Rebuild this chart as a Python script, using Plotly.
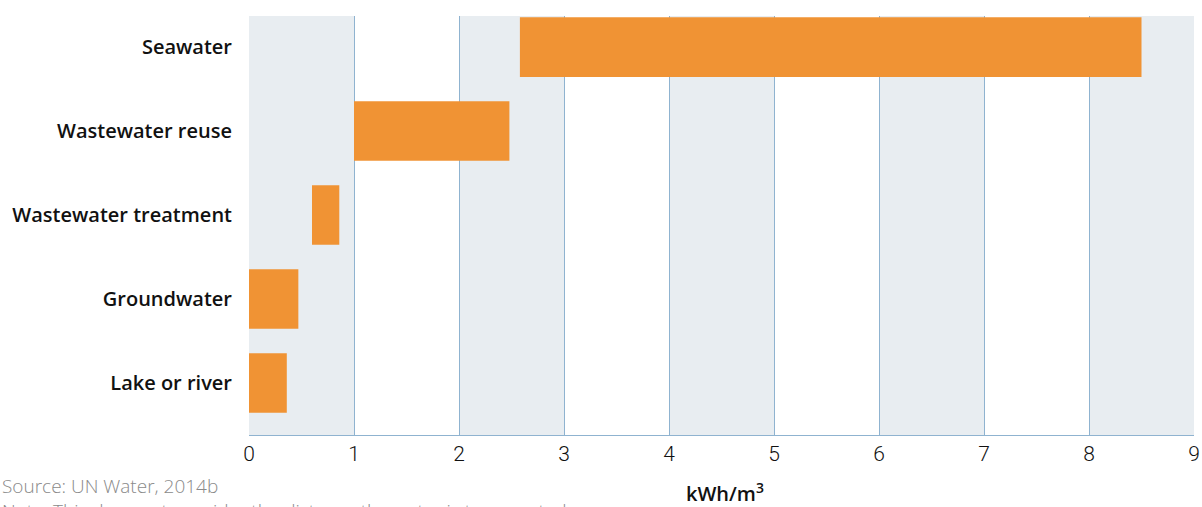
import plotly.graph_objects as go

categories = ["Lake or river", "Groundwater", "Wastewater treatment", "Wastewater reuse", "Seawater"]
low_values = [0.0, 0.0, 0.6, 1.0, 2.58]
high_values = [0.36, 0.47, 0.86, 2.48, 8.5]
tick_values = list(range(0, 10))
tick_labels = [str(v) for v in tick_values]

W, H = 1202, 507
ML, MR, MT, MB = 249, 8, 16, 72
PW, PH = W - ML - MR, H - MT - MB

fig = go.Figure()
fig.add_trace(go.Bar(
    y=categories,
    x=[h - l for l, h in zip(low_values, high_values)],
    base=low_values,
    orientation="h",
    marker=dict(color="#f09334", line=dict(width=0)),
    width=0.71,
    hoverinfo="skip",
))

shapes = []
for k in range(0, 9, 2):
    shapes.append(dict(type="rect", xref="x", yref="paper", x0=k, x1=k + 1, y0=0, y1=1,
                       fillcolor="#e8edf1", line=dict(width=0), layer="below"))
fig.update_layout(shapes=shapes)

def px_x(p):
    return (p - ML) / PW

def px_y(p):
    return (MT + PH - p) / PH

fig.update_layout(
    template="none",
    width=W, height=H,
    margin=dict(l=ML, r=MR, t=MT, b=MB, pad=0),
    plot_bgcolor="white", paper_bgcolor="white",
    showlegend=False,
    font=dict(family="Open Sans, sans-serif", color="#111111"),
    xaxis=dict(
        automargin=False,
        range=[0, 9], tickvals=tick_values, ticktext=tick_labels,
        showgrid=True, gridcolor="#8fb3d0", gridwidth=1,
        zeroline=False, showline=True, linecolor="#8fb3d0", linewidth=1,
        ticks="", tickfont=dict(size=21, family="Roboto, sans-serif", color="#111111", weight=300),
        ticklabelstandoff=0,
    ),
    yaxis=dict(
        automargin=False,
        range=[-0.62, 4.37], showgrid=False, zeroline=False, showline=False,
        ticks="", ticklabelstandoff=16,
        tickfont=dict(size=20, family="Open Sans, sans-serif", color="#111111", weight=600),
    ),
    annotations=[
        dict(text="kWh/m<sup>3</sup>", xref="paper", yref="paper", x=px_x(725), y=px_y(492),
             xanchor="center", yanchor="middle", showarrow=False,
             font=dict(size=20, family="Open Sans, sans-serif", color="#111111", weight=600)),
        dict(text="Source: UN Water, 2014b", xref="paper", yref="paper", x=px_x(0), y=px_y(486),
             xanchor="left", yanchor="middle", showarrow=False,
             font=dict(size=19, family="Open Sans, sans-serif", color="#8a8a8a", weight=300)),
        dict(text="Note: This does not consider the distance the water is transported.", xref="paper", yref="paper",
             x=px_x(0), y=px_y(511), xanchor="left", yanchor="middle", showarrow=False,
             font=dict(size=19, family="Open Sans, sans-serif", color="#8a8a8a", weight=300)),
    ],
)

fig.write_html("out.html", config={"displayModeBar": False},
               post_script="document.body.style.margin='0';")
